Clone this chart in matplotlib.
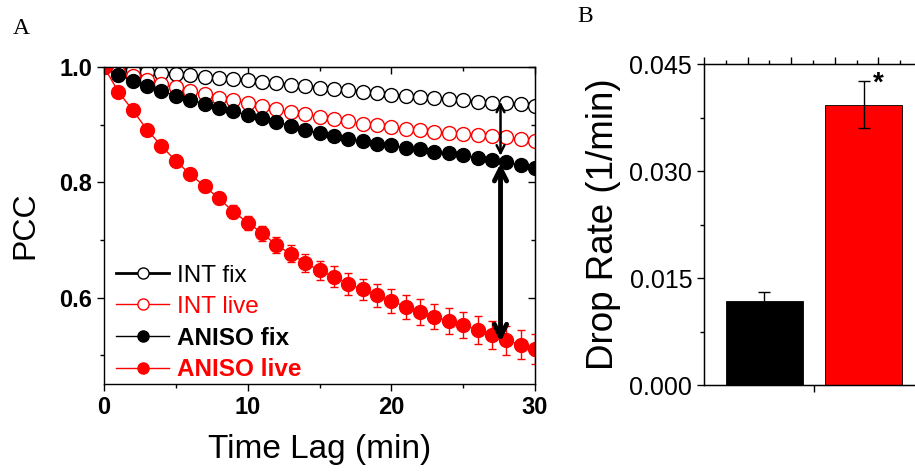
import matplotlib.pyplot as plt
from matplotlib.lines import Line2D
from matplotlib.ticker import MultipleLocator

plt.rcParams['font.family'] = ['Liberation Sans', 'DejaVu Sans']

# time lag (min)
t = list(range(31))

int_fix = [1.0, 0.996, 0.994, 0.992, 0.990, 0.988, 0.986, 0.983, 0.981, 0.979,
           0.977, 0.974, 0.972, 0.969, 0.967, 0.964, 0.962, 0.960, 0.957, 0.955,
           0.952, 0.950, 0.948, 0.946, 0.944, 0.942, 0.940, 0.938, 0.937, 0.935, 0.933]
int_fix_err = [0.0, 0.002, 0.002, 0.002, 0.002, 0.003, 0.003, 0.003, 0.003, 0.003,
               0.003, 0.003, 0.003, 0.003, 0.003, 0.003, 0.004, 0.004, 0.004, 0.004,
               0.004, 0.004, 0.004, 0.004, 0.004, 0.004, 0.004, 0.004, 0.004, 0.004, 0.004]

int_live = [1.0, 0.992, 0.984, 0.977, 0.971, 0.965, 0.959, 0.953, 0.947, 0.942,
            0.937, 0.932, 0.927, 0.922, 0.918, 0.914, 0.910, 0.906, 0.902, 0.899,
            0.896, 0.893, 0.890, 0.888, 0.886, 0.884, 0.882, 0.880, 0.878, 0.875, 0.872]
int_live_err = [0.0, 0.002, 0.002, 0.003, 0.003, 0.003, 0.003, 0.003, 0.004, 0.004,
                0.004, 0.004, 0.004, 0.004, 0.004, 0.004, 0.004, 0.005, 0.005, 0.005,
                0.005, 0.005, 0.005, 0.005, 0.005, 0.005, 0.005, 0.005, 0.005, 0.005, 0.005]

aniso_fix = [1.0, 0.986, 0.976, 0.967, 0.958, 0.950, 0.943, 0.936, 0.929, 0.923,
             0.917, 0.911, 0.905, 0.898, 0.891, 0.885, 0.880, 0.875, 0.871, 0.867,
             0.864, 0.860, 0.857, 0.853, 0.850, 0.847, 0.843, 0.839, 0.835, 0.830, 0.825]
aniso_fix_err = [0.0, 0.002, 0.003, 0.003, 0.003, 0.004, 0.004, 0.004, 0.004, 0.005,
                 0.005, 0.005, 0.005, 0.005, 0.006, 0.006, 0.006, 0.006, 0.006, 0.006,
                 0.007, 0.007, 0.007, 0.007, 0.007, 0.007, 0.007, 0.008, 0.008, 0.008, 0.008]

aniso_live = [1.0, 0.957, 0.925, 0.891, 0.863, 0.837, 0.814, 0.793, 0.772, 0.749,
              0.730, 0.712, 0.691, 0.676, 0.660, 0.647, 0.636, 0.624, 0.614, 0.604,
              0.594, 0.584, 0.575, 0.567, 0.559, 0.552, 0.544, 0.535, 0.526, 0.518, 0.510]
aniso_live_err = [0.0, 0.003, 0.004, 0.005, 0.006, 0.007, 0.008, 0.009, 0.010, 0.011,
                  0.012, 0.013, 0.014, 0.015, 0.016, 0.017, 0.018, 0.019, 0.019, 0.020,
                  0.021, 0.021, 0.022, 0.022, 0.023, 0.023, 0.024, 0.024, 0.025, 0.025, 0.026]

# drop rate bars
bar_pos = [1, 2]
drop_rate = [0.0118, 0.0393]
drop_err = [0.0013, 0.0033]
bar_colors = ['black', 'red']

fig = plt.figure(figsize=(9.15, 4.72), dpi=100)

# ---- panel A ----
ax = fig.add_axes([0.1137, 0.1864, 0.4710, 0.6716])

series = [
    (int_fix, int_fix_err, 'black', 'white', 2.0),
    (int_live, int_live_err, 'red', 'white', 1.0),
    (aniso_fix, aniso_fix_err, 'black', 'black', 1.0),
    (aniso_live, aniso_live_err, 'red', 'red', 1.0),
]
for y, e, c, fc, lw in series:
    ax.errorbar(t, y, yerr=e, color=c, lw=lw, marker='o', ms=10, mfc=fc, mec=c,
                mew=1.0, ecolor=c, elinewidth=1.0, capsize=3, capthick=1.0)

# arrows between curves at t ~ 27.6
ax.annotate('', xy=(27.6, 0.940), xytext=(27.6, 0.846),
            arrowprops=dict(arrowstyle='<->', color='black', lw=1.8,
                            mutation_scale=14, shrinkA=0, shrinkB=0))
ax.annotate('', xy=(27.6, 0.833), xytext=(27.6, 0.523),
            arrowprops=dict(arrowstyle='<->', color='black', lw=3.5,
                            mutation_scale=22, shrinkA=0, shrinkB=0))

ax.set_xlim(0, 30)
ax.set_ylim(0.45, 1.0)
ax.xaxis.set_major_locator(MultipleLocator(10))
ax.xaxis.set_minor_locator(MultipleLocator(5))
ax.set_yticks([0.6, 0.8, 1.0])
ax.yaxis.set_minor_locator(MultipleLocator(0.1))
ax.tick_params(which='both', direction='out', width=1.0, labelsize=17, colors='black')
ax.tick_params(which='major', length=5)
ax.tick_params(which='minor', length=3)
for lab in ax.get_xticklabels() + ax.get_yticklabels():
    lab.set_fontweight('bold')
for s in ax.spines.values():
    s.set_linewidth(1.0)
ax.set_xlabel('Time Lag (min)', fontsize=24, labelpad=11)
ax.set_ylabel('PCC', fontsize=23, labelpad=14)

# inward ticks on top and right
ax_top = ax.secondary_xaxis('top')
ax_top.xaxis.set_major_locator(MultipleLocator(10))
ax_top.xaxis.set_minor_locator(MultipleLocator(5))
ax_top.tick_params(which='both', direction='in', labeltop=False, width=1.0)
ax_top.tick_params(which='major', length=5)
ax_top.tick_params(which='minor', length=3)
ax_right = ax.secondary_yaxis('right')
ax_right.set_yticks([0.6, 0.8, 1.0])
ax_right.yaxis.set_minor_locator(MultipleLocator(0.1))
ax_right.tick_params(which='both', direction='in', labelright=False, width=1.0)
ax_right.tick_params(which='major', length=5)
ax_right.tick_params(which='minor', length=3)

handles = [
    Line2D([], [], color='black', lw=2.0, marker='o', ms=8, mfc='white', mec='black'),
    Line2D([], [], color='red', lw=1.0, marker='o', ms=8, mfc='white', mec='red'),
    Line2D([], [], color='black', lw=1.0, marker='o', ms=8, mfc='black', mec='black'),
    Line2D([], [], color='red', lw=1.0, marker='o', ms=8, mfc='red', mec='red'),
]
labels = ['INT fix', 'INT live', 'ANISO fix', 'ANISO live']
leg = ax.legend(handles, labels, loc='lower left', bbox_to_anchor=(-0.012, -0.045),
                frameon=False, fontsize=17.5, handlelength=2.2, handletextpad=0.3,
                labelspacing=0.36, borderpad=0.2)
for txt, c, w in zip(leg.get_texts(), ['black', 'red', 'black', 'red'],
                     ['normal', 'normal', 'bold', 'bold']):
    txt.set_color(c)
    txt.set_fontweight(w)

fig.text(21 / 915, 1 - 28 / 472, 'A', fontsize=17, family='Liberation Serif',
         ha='center', va='center')

# ---- panel B ----
bx = fig.add_axes([0.7694, 0.1843, 0.2383, 0.6801])
bx.bar(bar_pos, drop_rate, width=0.78, color=bar_colors, edgecolor='black', lw=0.6,
       yerr=drop_err, error_kw=dict(ecolor='black', elinewidth=1.0, capsize=4, capthick=1.0))
bx.text(2.15, drop_rate[1] + drop_err[1] - 0.0004, '*', fontsize=20, fontweight='bold',
        ha='center', va='center')
bx.set_xlim(0.39, 2.59)
bx.set_ylim(0, 0.045)
bx.set_xticks([1.5])
bx.set_xticklabels([''])
bx.set_yticks([0.0, 0.015, 0.030, 0.045])
bx.set_yticklabels(['0.000', '0.015', '0.030', '0.045'])
bx.yaxis.set_minor_locator(MultipleLocator(0.0075))
bx.tick_params(which='both', direction='out', labelsize=18, width=1.0)
bx.tick_params(which='major', length=5)
bx.tick_params(which='minor', length=3)
bx.tick_params(axis='y', which='both', right=True, labelright=False)
for s in bx.spines.values():
    s.set_linewidth(1.0)
bx.set_ylabel('Drop Rate (1/min)', fontsize=26.5, labelpad=6)

top = bx.twiny()
top.set_xlim(0, 5)
top.xaxis.set_major_locator(MultipleLocator(1))
top.xaxis.set_minor_locator(MultipleLocator(0.5))
top.tick_params(which='both', direction='out', labeltop=False, width=1.0)
top.tick_params(which='major', length=5)
top.tick_params(which='minor', length=3)

fig.text(585 / 915, 1 - 16 / 472, 'B', fontsize=17, family='Liberation Serif',
         ha='center', va='center')

fig.savefig('out.png', dpi=100)
